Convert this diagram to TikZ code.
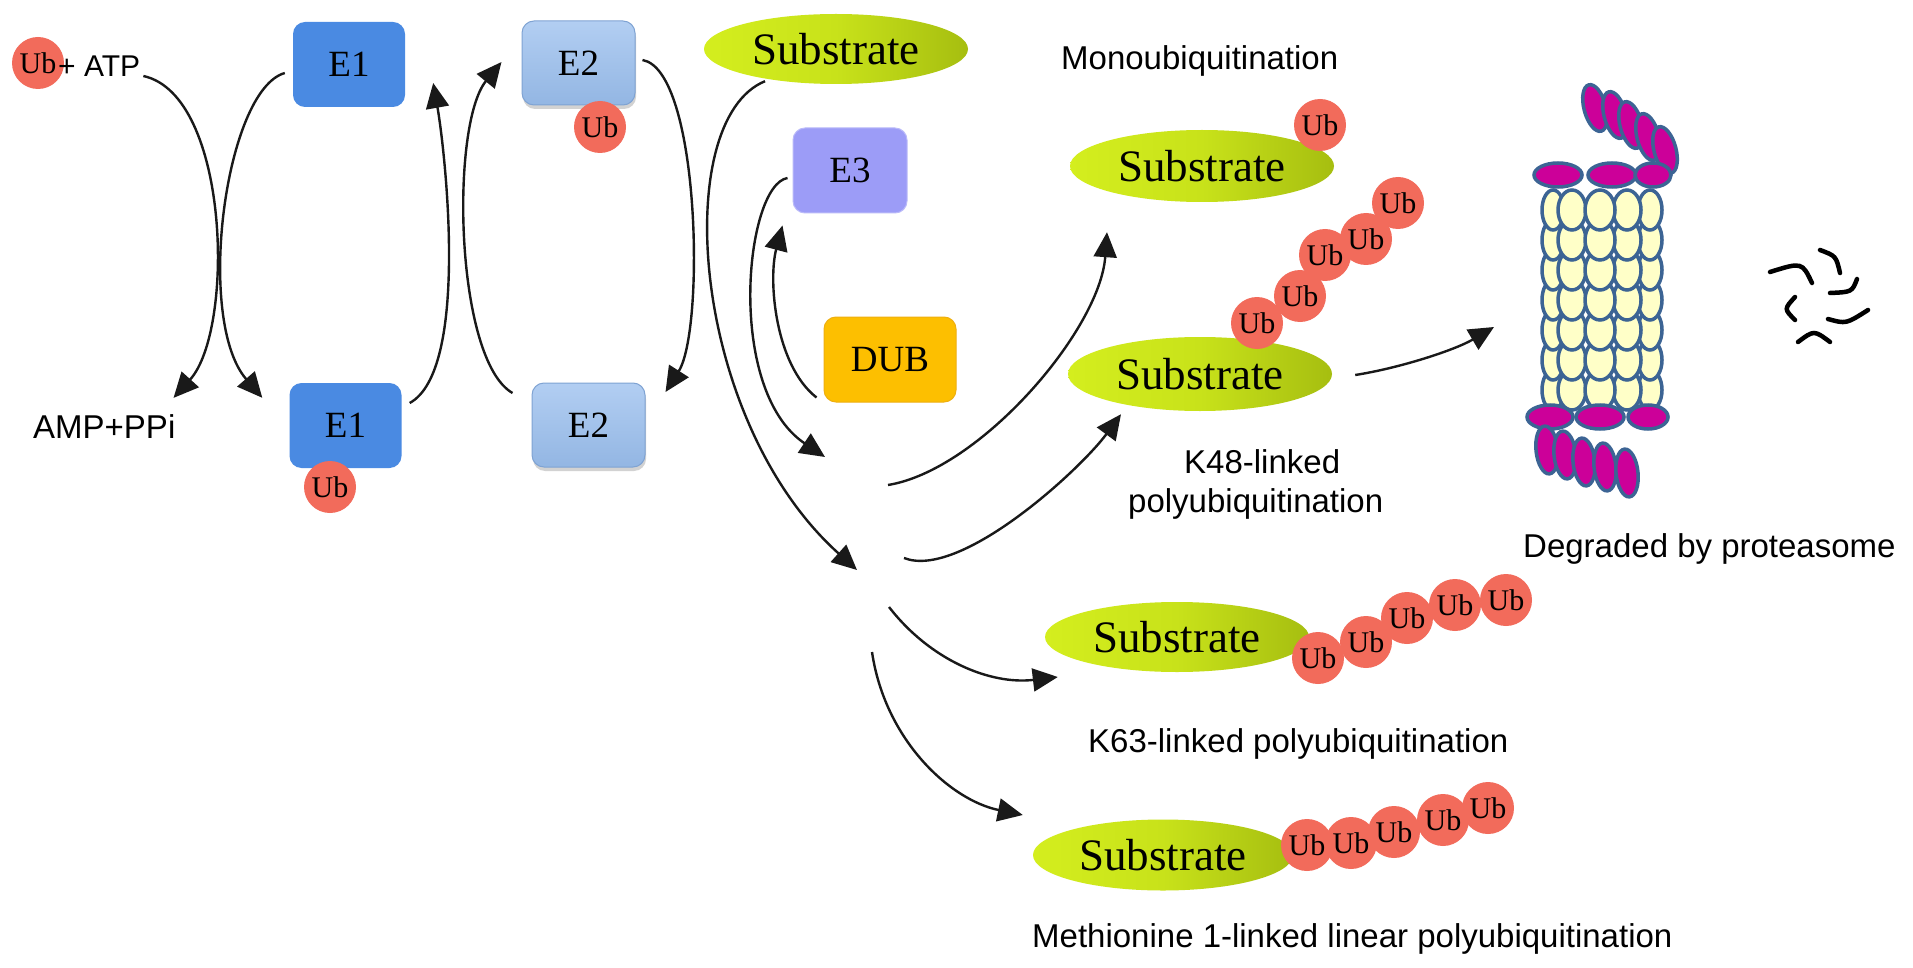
\documentclass[tikz,border=0pt]{standalone}
\usepackage{fontspec}
\setmainfont{Liberation Serif}
\setsansfont{Liberation Sans}
\usetikzlibrary{shapes.geometric,arrows.meta,calc,shadows}
\definecolor{ubred}{HTML}{F26B5B}
\definecolor{eone}{HTML}{4A8AE2}
\definecolor{etwolight}{HTML}{B2CEF2}
\definecolor{etwo}{HTML}{93B6E3}
\definecolor{etwodark}{HTML}{7FA3D3}
\definecolor{ethree}{HTML}{9C9CF7}
\definecolor{dubcol}{HTML}{FDBF00}
\definecolor{sublight}{HTML}{D4EE1E}
\definecolor{submid}{HTML}{C8E21A}
\definecolor{subdark}{HTML}{A6BE10}
\definecolor{protyellow}{HTML}{FFFFC8}
\definecolor{protblue}{HTML}{3C6494}
\definecolor{protmag}{HTML}{CC0099}
\begin{document}
\begin{tikzpicture}[x=1pt,y=-1pt,
 ub/.style={circle,fill=ubred,minimum size=52pt,inner sep=0pt,font=\fontsize{30}{30}\selectfont},
 sub/.style={ellipse,inner sep=0pt,minimum width=264pt,minimum height=70pt,left color=sublight,right color=subdark,middle color=submid,font=\fontsize{45}{45}\selectfont},
 boxbase/.style={rectangle,rounded corners=12pt,inner sep=0pt,font=\fontsize{37}{37}\selectfont},
 eonebox/.style={boxbase,fill=eone,minimum width=112pt,minimum height=85pt},
 etwobox/.style={boxbase,top color=etwolight,bottom color=etwo,draw=etwodark,line width=1pt,drop shadow={shadow xshift=1pt,shadow yshift=-4pt,opacity=0.35},minimum width=113pt,minimum height=84pt},
 ethreebox/.style={boxbase,fill=ethree,draw=ethree!70!white,line width=1pt,minimum width=114pt,minimum height=85pt},
 dubbox/.style={boxbase,fill=dubcol,draw=dubcol!75!brown,line width=1pt,minimum width=132pt,minimum height=85pt},
 lbl/.style={inner sep=0pt,anchor=base west,font=\sffamily\fontsize{33}{33}\selectfont},
 arr/.style={-{Triangle[length=25pt,width=23pt]},line width=2.4pt,black!90},
 cell/.style={fill=protyellow,draw=protblue,line width=3.5pt},
 capp/.style={fill=protmag,draw=protblue,line width=3.5pt},
 frag/.style={line width=4.5pt,line cap=round}
]
\fill[white] (0,0) rectangle (1913,968);
\useasboundingbox (0,0) rectangle (1913,968);

% ---- activation / conjugation ----
\node[ub] (ub0) at (38,63) {Ub};
\node[lbl,font=\sffamily\fontsize{30}{30}\selectfont] (atp) at (58,77) {+ ATP};
\node[lbl] (amp) at (33,438) {AMP+PPi};

\node[eonebox] (e1t) at (349,64.5) {E1};
\node[eonebox] (e1b) at (345.5,425.5) {E1};
\node[ub] (ube1) at (330,487) {Ub};
\node[etwobox] (e2t) at (578.5,63) {E2};
\node[ub] (ube2) at (600,127) {Ub};
\node[etwobox] (e2b) at (588.5,425) {E2};

\node[sub] (sub0) at (836,49) {Substrate};
\node[ethreebox] (e3) at (850,170.5) {E3};
\node[dubbox] (dub) at (890,359.5) {DUB};

% ---- free ends in the middle ----
\coordinate (a6end) at (857,570);
\coordinate (a7end) at (825,457);
\coordinate (a9s) at (888,485);
\coordinate (a10s) at (904,558);
\coordinate (a11s) at (889,607);
\coordinate (a12s) at (872,652);
\coordinate (prot) at (1538,300);

% ---- products ----
\node[lbl] (monolbl) at (1061,70) {Monoubiquitination};
\node[sub,minimum height=72pt] (mono) at (1202,166) {Substrate};
\node[ub] (ubm) at (1320,125) {Ub};

\node[sub,minimum height=74pt] (k48) at (1200,374) {Substrate};
\node[ub] (ka) at (1257,323) {Ub};
\node[ub] (kb) at (1300,296) {Ub};
\node[ub] (kc) at (1325,255) {Ub};
\node[ub] (kd) at (1366,239) {Ub};
\node[ub] (ke) at (1398,203) {Ub};
\node[lbl] (k48lbla) at (1184,473) {K48-linked};
\node[lbl] (k48lblb) at (1128,512) {polyubiquitination};

\node[sub] (k63) at (1177,637) {Substrate};
\node[ub] (ga) at (1318,658) {Ub};
\node[ub] (gb) at (1366,642) {Ub};
\node[ub] (gc) at (1407,618) {Ub};
\node[ub] (gd) at (1455,605) {Ub};
\node[ub] (ge) at (1506,600) {Ub};
\node[lbl] (k63lbl) at (1088,752) {K63-linked polyubiquitination};

\node[sub,minimum width=260pt,minimum height=71pt] (m1) at (1163,855) {Substrate};
\node[ub] (ma) at (1307,845) {Ub};
\node[ub] (mb) at (1351,843) {Ub};
\node[ub] (mc) at (1394,832) {Ub};
\node[ub] (md) at (1443,820) {Ub};
\node[ub] (me) at (1488,808) {Ub};
\node[lbl] (m1lbl) at (1032,947) {Methionine 1-linked linear polyubiquitination};

% ---- proteasome ----
\foreach \cx/\rx in {1553/11,1650/12,1572/14,1627/14,1600/15}
  \foreach \cy in {390,360,330,300,270,240,210}
    \draw[cell] (\cx,\cy) ellipse [x radius=\rx, y radius=20];
\foreach \cx/\cy in {1595/108,1615/115,1631/125,1648/137,1665/150}
  \draw[capp,rotate around={15:(\cx,\cy)}] (\cx,\cy) ellipse [x radius=11, y radius=24];
\foreach \cx/\rx in {1558/24,1612/24,1653/18}
  \draw[capp] (\cx,175) ellipse [x radius=\rx, y radius=12];
\foreach \cx/\rx in {1550/23,1600/24,1648/20}
  \draw[capp] (\cx,417) ellipse [x radius=\rx, y radius=12];
\foreach \cx/\cy in {1547/450,1565/455,1584/462,1605/467,1627/473}
  \draw[capp,rotate around={6:(\cx,\cy)}] (\cx,\cy) ellipse [x radius=11, y radius=24];
\node[lbl] (deglbl) at (1523,557) {Degraded by proteasome};

% ---- peptide fragments ----
\draw[frag] (1820,250) .. controls (1836,256) .. (1840,273);
\draw[frag] (1770,272) .. controls (1802,262) .. (1812,283);
\draw[frag] (1857,279) .. controls (1852,292) .. (1830,293);
\draw[frag] (1795,297) .. controls (1784,309) .. (1795,320);
\draw[frag] (1828,319) .. controls (1846,324) .. (1868,310);
\draw[frag] (1798,342) .. controls (1814,330) .. (1830,342);

% ---- connectors ----
\draw[arr] ($(atp.base east)+(3,-1)$) .. controls (230,95) and (235,330) .. ($(amp.north east)+(-2,-16)$);
\draw[arr] ($(e1t.west)+(-8,8.5)$) .. controls (225,90) and (195,320) .. ($(e1b.north west)+(-27,15)$);
\draw[arr] ($(e1b.east)+(8,-22.5)$) .. controls (470,370) and (445,150) .. ($(e1t.east)+(28,18.5)$);
\draw[arr] ($(e2b.west)+(-19,-32)$) .. controls (455,360) and (450,125) .. ($(e2t.west)+(-20,-1)$);
\draw[arr] ($(e2t.east)+(7,-3)$) .. controls (700,70) and (705,330) .. ($(e2b.east)+(20,-33)$);
\draw[arr] ($(sub0.south)+(-71,-3)$) .. controls (670,120) and (690,420) .. (a6end);
\draw[arr] ($(e3.west)+(-5,7.5)$) .. controls (745,185) and (725,390) .. (a7end);
\draw[arr] ($(dub.south west)+(-7,-5)$) .. controls (775,365) and (768,280) .. ($(e3.south west)+(-10,12)$);
\draw[arr] (a9s) .. controls (980,470) and (1100,330) .. ($(mono.south)+(-95,30)$);
\draw[arr] (a10s) .. controls (960,580) and (1080,470) .. ($(k48.south)+(-79,3)$);
\draw[arr] (a11s) .. controls (930,660) and (990,685) .. ($(k63.west)+(13,40)$);
\draw[arr] (a12s) .. controls (885,740) and (950,800) .. ($(m1.west)+(-10,-40)$);
\draw[arr] ($(k48.east)+(23,1)$) .. controls (1400,368) and (1455,350) .. ($(prot)+(-44,27)$);
\end{tikzpicture}
\end{document}
